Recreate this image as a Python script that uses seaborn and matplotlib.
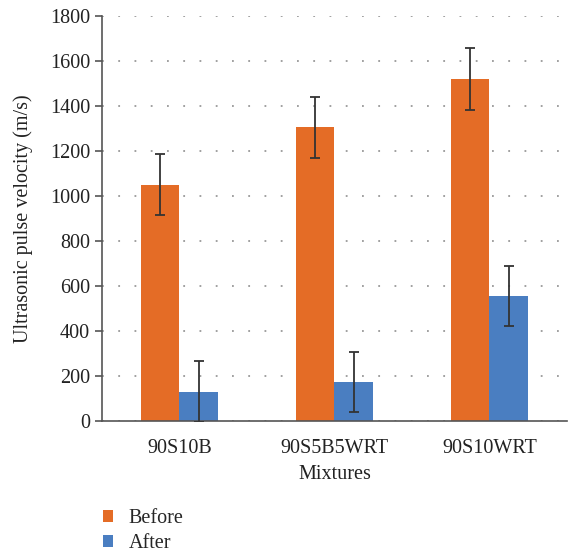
import matplotlib
matplotlib.use("Agg")
import matplotlib.pyplot as plt
from matplotlib.patches import Patch
import seaborn as sns
import pandas as pd
import numpy as np

mixtures = ["90S10B", "90S5B5WRT", "90S10WRT"]
before = [1050, 1305, 1520]
after = [130, 173, 556]
before_err = [135, 135, 137]
after_err = [135, 135, 135]
groups = ["Before", "After"]
colors = {"Before": "#E46C26", "After": "#4A7EC1"}

df = pd.DataFrame({
    "Mixture": mixtures * 2,
    "Condition": ["Before"] * 3 + ["After"] * 3,
    "UPV": before + after,
    "err": before_err + after_err,
})

sns.set_theme(style="white")
plt.rcParams["font.family"] = ["Liberation Serif", "DejaVu Serif"]

fig = plt.figure(figsize=(5.71, 5.52), dpi=100)
ax = fig.add_axes([0.1786, 0.2373, 0.8144, 0.7337])

sns.barplot(data=df, x="Mixture", y="UPV", hue="Condition", order=mixtures,
            hue_order=groups, palette=colors, width=0.5, errorbar=None,
            saturation=1, linewidth=0, ax=ax, legend=False, zorder=2)

# error bars at each bar's centre
for cond, container in zip(groups, ax.containers):
    sub = df[df["Condition"] == cond].set_index("Mixture").loc[mixtures]
    xs = [p.get_x() + p.get_width() / 2 for p in container]
    ax.errorbar(xs, sub["UPV"], yerr=sub["err"], fmt="none", ecolor="#333333",
                elinewidth=1.3, capsize=3.3, capthick=1.3, zorder=3)

ax.set_ylim(0, 1800)
ax.set_xlim(-0.5, 2.5)
ax.set_yticks(np.arange(0, 1801, 200))
ax.yaxis.grid(True, linestyle=(0, (1, 8)), color="#999999", linewidth=1.3)
ax.set_axisbelow(True)

fs = 14.5
ax.set_xticks([-0.5, 0.5, 1.5, 2.5], minor=True)
ax.tick_params(axis="x", which="major", length=0, labelsize=fs, pad=13, colors="#222222")
ax.tick_params(axis="x", which="minor", length=6, width=1.2, color="#555555", direction="out")
ax.tick_params(axis="y", length=5, width=1.2, labelsize=fs,
               direction="out", left=True, colors="#222222")
ax.tick_params(axis="y", color="#555555")

for s in ["top", "right"]:
    ax.spines[s].set_visible(False)
for s in ["left", "bottom"]:
    ax.spines[s].set_color("#555555")
    ax.spines[s].set_linewidth(1.2)

ax.set_xlabel("Mixtures", fontsize=fs, color="#222222", labelpad=5)
ax.set_ylabel("Ultrasonic pulse velocity (m/s)", fontsize=fs, color="#222222", labelpad=12)

handles = [Patch(facecolor=colors[g], edgecolor="none") for g in groups]
fig.legend(handles, groups, loc="upper left", bbox_to_anchor=(0.167, 0.093),
           frameon=False, fontsize=fs, handlelength=0.5, handleheight=0.55,
           handletextpad=0.75, labelspacing=0.3, borderaxespad=0)

fig.savefig("out.png", dpi=100)
